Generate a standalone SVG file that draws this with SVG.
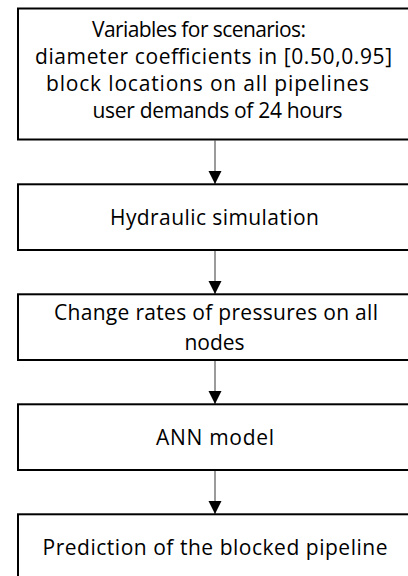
<svg xmlns="http://www.w3.org/2000/svg" width="408" height="576" viewBox="0 0 408 576">
<style>
.box{fill:#fff;stroke:#000;stroke-width:2}
.t{font-family:"Open Sans","Liberation Sans",sans-serif;font-size:21px;fill:#000;text-anchor:middle}
.edge{stroke:#7a7a7a;stroke-width:1.5;fill:none;marker-end:url(#ah)}
</style>
<defs>
<marker id="ah" markerUnits="userSpaceOnUse" markerWidth="14" markerHeight="14" refX="13" refY="6.5" orient="auto">
<path d="M0,0 L13,6.5 L0,13 z" fill="#000"/>
</marker>
</defs>
<rect width="408" height="576" fill="#fff"/>
<g id="connectors">
<line class="edge" x1="215" y1="140.5" x2="215" y2="184"/>
<line class="edge" x1="215" y1="251" x2="215" y2="294"/>
<line class="edge" x1="215" y1="361" x2="215" y2="404"/>
<line class="edge" x1="215" y1="471" x2="215" y2="514"/>
</g>
<g id="n1">
<rect class="box" x="18" y="8.5" width="394" height="131"/>
<text class="t" x="199" y="37" textLength="214" lengthAdjust="spacing">Variables for scenarios:</text>
<text class="t" x="213.5" y="64" textLength="357" lengthAdjust="spacing">diameter coefficients in [0.50,0.95]</text>
<text class="t" x="207.5" y="91" textLength="323" lengthAdjust="spacing">block locations on all pipelines</text>
<text class="t" x="217.5" y="118" textLength="250" lengthAdjust="spacing">user demands of 24 hours</text>
</g>
<g id="n2">
<rect class="box" x="18" y="184.3" width="394" height="65.7"/>
<text class="t" x="214.5" y="225" textLength="209" lengthAdjust="spacing">Hydraulic simulation</text>
</g>
<g id="n3">
<rect class="box" x="18" y="294.3" width="394" height="65.7"/>
<text class="t" x="216" y="320" textLength="324" lengthAdjust="spacing">Change rates of pressures on all</text>
<text class="t" x="214.5" y="350">nodes</text>
</g>
<g id="n4">
<rect class="box" x="18" y="404.3" width="394" height="65.7"/>
<text class="t" x="215" y="445" textLength="118" lengthAdjust="spacing">ANN model</text>
</g>
<g id="n5">
<rect class="box" x="18" y="514.3" width="394" height="70"/>
<text class="t" x="215" y="555" textLength="345" lengthAdjust="spacing">Prediction of the blocked pipeline</text>
</g>
</svg>
